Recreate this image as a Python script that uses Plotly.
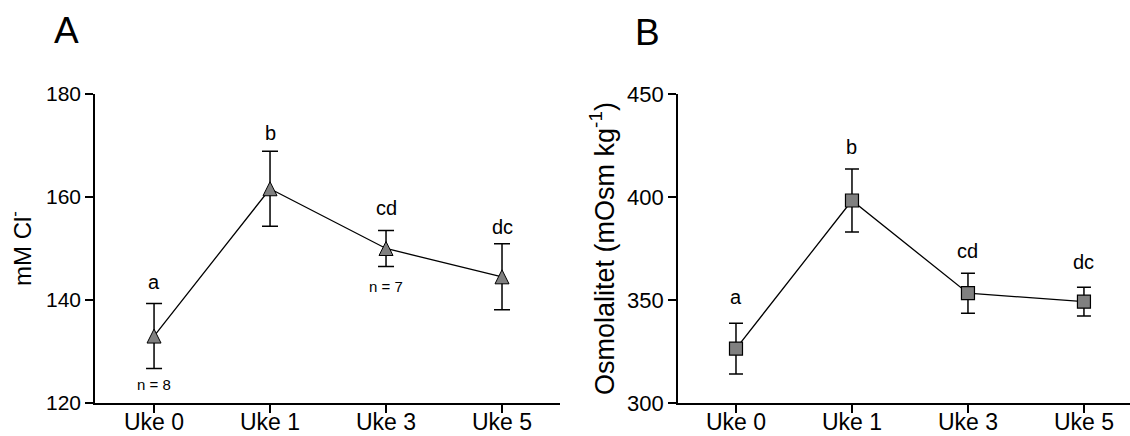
import plotly.graph_objects as go

# ---------------- data ----------------
weeks = ["Uke 0", "Uke 1", "Uke 3", "Uke 5"]

chloride_mean = [133.0, 161.6, 150.0, 144.5]
chloride_err = [6.3, 7.3, 3.5, 6.4]
chloride_letters = ["a", "b", "cd", "dc"]
chloride_n = ["n = 8", "", "n = 7", ""]

osmo_mean = [326.4, 398.3, 353.3, 349.2]
osmo_err = [12.3, 15.3, 9.7, 7.0]
osmo_letters = ["a", "b", "cd", "dc"]

chloride_ticks = [120, 140, 160, 180]
osmo_ticks = [300, 350, 400, 450]

# ---------------- style ----------------
FONT = "Arial, 'Liberation Sans', sans-serif"
W, H = 1130, 436
letter_shift_a = [9, 5, 9, 4]
letter_shift_b = [13, 9, 9, 12]
n_shift = [-6, 0, -9, 0]

fig = go.Figure()

fig.add_trace(go.Scatter(
    x=weeks, y=chloride_mean, xaxis="x", yaxis="y",
    mode="lines+markers",
    line=dict(color="black", width=1.3, backoff=0),
    marker=dict(symbol="arrow-down", angle=180, size=14, standoff=7,
                color="#808080", line=dict(color="black", width=1)),
    error_y=dict(type="data", array=chloride_err, visible=True,
                 color="black", thickness=1.5, width=8),
    cliponaxis=False,
))

fig.add_trace(go.Scatter(
    x=weeks, y=osmo_mean, xaxis="x2", yaxis="y2",
    mode="lines+markers",
    line=dict(color="black", width=1.3),
    marker=dict(symbol="square", size=13, color="#808080",
                line=dict(color="black", width=1.2)),
    error_y=dict(type="data", array=osmo_err, visible=True,
                 color="black", thickness=1.5, width=7),
    cliponaxis=False,
))

annotations = []
for i, w in enumerate(weeks):
    annotations.append(dict(
        x=w, y=chloride_mean[i] + chloride_err[i], xref="x", yref="y",
        text=chloride_letters[i], showarrow=False, yanchor="bottom",
        yshift=letter_shift_a[i], font=dict(family=FONT, size=20, color="black")))
    if chloride_n[i]:
        annotations.append(dict(
            x=w, y=chloride_mean[i] - chloride_err[i], xref="x", yref="y",
            text=chloride_n[i], showarrow=False, yanchor="top",
            yshift=n_shift[i], font=dict(family=FONT, size=15, color="black")))
    annotations.append(dict(
        x=w, y=osmo_mean[i] + osmo_err[i], xref="x2", yref="y2",
        text=osmo_letters[i], showarrow=False, yanchor="bottom",
        yshift=letter_shift_b[i], font=dict(family=FONT, size=20, color="black")))

annotations.append(dict(x=66 / W, y=1 - 31 / H, xref="paper", yref="paper",
                        text="A", showarrow=False, xanchor="center", yanchor="middle",
                        font=dict(family=FONT, size=37, color="black")))
annotations.append(dict(x=647 / W, y=1 - 32 / H, xref="paper", yref="paper",
                        text="B", showarrow=False, xanchor="center", yanchor="middle",
                        font=dict(family=FONT, size=37, color="black")))

axis_common = dict(
    showline=True, linecolor="black", linewidth=1.6,
    ticks="outside", ticklen=8, tickwidth=1.5, tickcolor="black",
    showgrid=False, zeroline=False, automargin=False,
)

y_dom = [1 - 403 / H, 1 - 94 / H]
xtick_font = dict(family=FONT, size=23, color="black")

fig.update_layout(
    template="none",
    width=W, height=H,
    margin=dict(l=0, r=0, t=0, b=0, pad=0),
    paper_bgcolor="white", plot_bgcolor="white",
    showlegend=False,
    font=dict(family=FONT, color="black"),
    xaxis=dict(domain=[95 / W, 560 / W], type="category",
               range=[-0.509, 3.5], anchor="y", tickfont=xtick_font,
               ticklabelstandoff=-10, **axis_common),
    yaxis=dict(domain=y_dom, range=[120, 180], tickvals=chloride_ticks,
               anchor="x", tickfont=dict(family=FONT, size=21, color="black"),
               title=dict(text="mM Cl<sup>-</sup>", standoff=8,
                          font=dict(family=FONT, size=24, color="black")),
               **axis_common),
    xaxis2=dict(domain=[678 / W, 1.0], type="category",
                range=[-0.5, 3.397], anchor="y2", tickfont=xtick_font,
                ticklabelstandoff=-10, **axis_common),
    yaxis2=dict(domain=y_dom, range=[300, 450], tickvals=osmo_ticks,
                anchor="x2", tickfont=dict(family=FONT, size=22, color="black"),
                title=dict(text="Osmolalitet (mOsm kg<sup>-1</sup>)", standoff=5,
                           font=dict(family=FONT, size=27, color="black")),
                **axis_common),
    annotations=annotations,
)

fig.write_html("out.html")
